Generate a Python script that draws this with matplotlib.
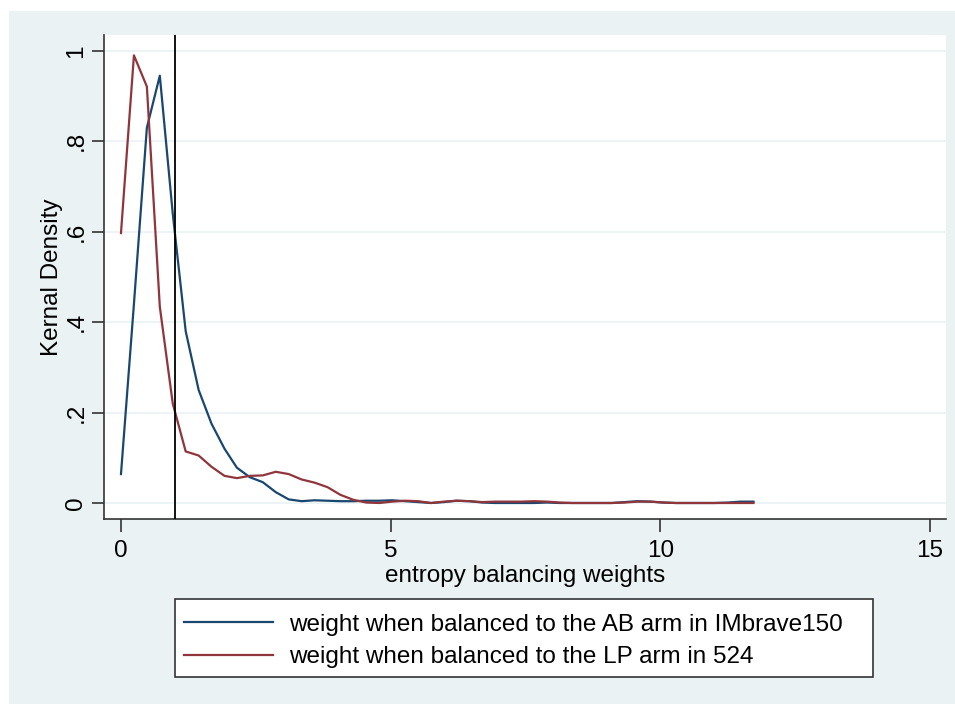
import matplotlib
matplotlib.use('Agg')
import matplotlib.pyplot as plt
from matplotlib.patches import Rectangle

plt.rcParams['font.family'] = ['Liberation Sans', 'DejaVu Sans']

# evaluation points of the kernel density (same grid for both arms)
weights = [0.00, 0.24, 0.48, 0.72, 0.96, 1.20, 1.44, 1.68, 1.92, 2.15,
           2.39, 2.63, 2.87, 3.11, 3.35, 3.59, 3.83, 4.07, 4.31, 4.55,
           4.79, 5.03, 5.27, 5.51, 5.75, 5.99, 6.22, 6.46, 6.70, 6.94,
           7.18, 7.42, 7.66, 7.90, 8.14, 8.38, 8.62, 8.86, 9.10, 9.34,
           9.58, 9.82, 10.06, 10.29, 10.53, 10.77, 11.01, 11.25, 11.49, 11.73]

dens_ab = [0.064, 0.44, 0.83, 0.945, 0.64, 0.38, 0.25, 0.175, 0.12, 0.078,
           0.057, 0.046, 0.024, 0.008, 0.004, 0.006, 0.005, 0.004, 0.004, 0.005,
           0.005, 0.006, 0.004, 0.002, 0.000, 0.002, 0.005, 0.004, 0.001, 0.000,
           0.000, 0.000, 0.000, 0.001, 0.000, 0.000, 0.000, 0.000, 0.000, 0.002,
           0.004, 0.003, 0.001, 0.000, 0.000, 0.000, 0.000, 0.001, 0.003, 0.003]

dens_lp = [0.597, 0.99, 0.921, 0.434, 0.22, 0.114, 0.105, 0.08, 0.06, 0.055,
           0.06, 0.061, 0.069, 0.064, 0.052, 0.045, 0.035, 0.018, 0.007, 0.001,
           0.000, 0.003, 0.005, 0.004, 0.000, 0.003, 0.005, 0.004, 0.002, 0.003,
           0.003, 0.003, 0.004, 0.003, 0.001, 0.000, 0.000, 0.000, 0.000, 0.001,
           0.003, 0.003, 0.001, 0.000, 0.000, 0.000, 0.000, 0.000, 0.000, 0.000]

labels = ['weight when balanced to the AB arm in IMbrave150',
          'weight when balanced to the LP arm in 524']
xticks = [0, 5, 10, 15]
yticks = [0, 0.2, 0.4, 0.6, 0.8, 1.0]
yticklabels = ['0', '.2', '.4', '.6', '.8', '1']

bg = '#eaf2f3'
navy = '#1a476f'
maroon = '#90353b'

W, H = 955, 704
fig = plt.figure(figsize=(W / 100, H / 100), dpi=100, facecolor='white')
# stata graph region (drawn behind everything)
fig.patches.append(Rectangle((9 / W, 0), 1 - 9 / W, 1 - 11 / H,
                             transform=fig.transFigure, facecolor=bg,
                             edgecolor='none', zorder=-10))
# legend box, drawn by hand so it can be wider than the entries
fig.patches.append(Rectangle((175 / W, 1 - 677 / H), (873 - 175) / W, 78 / H,
                             transform=fig.transFigure, facecolor='white',
                             edgecolor='#333333', lw=1.2, zorder=-5))

ax = fig.add_axes([104 / W, 1 - 519 / H, (946 - 104) / W, (519 - 35) / H])
ax.set_facecolor('white')

ax.plot(weights, dens_ab, color=navy, lw=1.6, label=labels[0], zorder=3)
ax.plot(weights, dens_lp, color=maroon, lw=1.6, label=labels[1], zorder=3)
ax.axvline(1, color='black', lw=1.3, zorder=4)

ax.set_xlim(-0.315, 15.3)
ax.set_ylim(-0.0354, 1.035)
ax.set_xticks(xticks)
ax.set_yticks(yticks)
ax.set_yticklabels(yticklabels, rotation=90, va='center')
ax.grid(axis='y', color=bg, lw=1.2)
ax.set_axisbelow(True)

for s in ['top', 'right']:
    ax.spines[s].set_visible(False)
for s in ['left', 'bottom']:
    ax.spines[s].set_color('#333333')
    ax.spines[s].set_linewidth(1.2)
ax.tick_params(axis='both', length=9, width=1.2, color='#333333',
               labelsize=17.5)
ax.tick_params(axis='x', pad=6)
ax.tick_params(axis='y', pad=3)

ax.set_xlabel('entropy balancing weights', fontsize=17.5, labelpad=2)
ax.set_ylabel('Kernal Density', fontsize=17.5, labelpad=2)

leg = fig.legend(loc='center left', bbox_to_anchor=(175 / W, 1 - 641 / H),
                 fontsize=17.5, frameon=False, ncol=1,
                 handlelength=3.7, handletextpad=0.65, borderpad=0,
                 labelspacing=0.45, borderaxespad=0.35)

fig.savefig('out.png', dpi=100, facecolor='white')
